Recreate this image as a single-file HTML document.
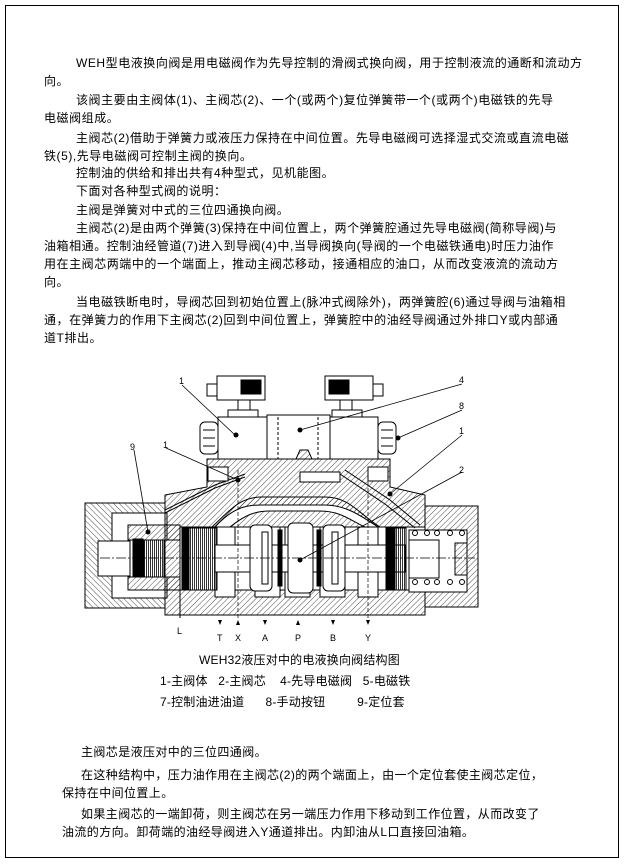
<!DOCTYPE html>
<html><head><meta charset="utf-8">
<style>
html,body{margin:0;padding:0;background:#fff;}
body{width:625px;height:865px;position:relative;overflow:hidden;font-family:"Liberation Sans","WenQuanYi Zen Hei","Noto Sans CJK SC",sans-serif;color:#000;}
.frame{position:absolute;left:5px;top:5px;width:614px;height:853px;border:1px solid #000;box-sizing:border-box;}
.t{position:absolute;font-size:12px;line-height:14px;white-space:nowrap;letter-spacing:0.55px;}
svg{position:absolute;left:0;top:0;}
</style></head><body>
<div class="frame"></div>
<div class="t" style="left:76px;top:56px">WEH型电液换向阀是用电磁阀作为先导控制的滑阀式换向阀，用于控制液流的通断和流动方</div>
<div class="t" style="left:44px;top:74px">向。</div>
<div class="t" style="left:76px;top:93px">该阀主要由主阀体(1)、主阀芯(2)、一个(或两个)复位弹簧带一个(或两个)电磁铁的先导</div>
<div class="t" style="left:44px;top:111px">电磁阀组成。</div>
<div class="t" style="left:76px;top:131px">主阀芯(2)借助于弹簧力或液压力保持在中间位置。先导电磁阀可选择湿式交流或直流电磁</div>
<div class="t" style="left:44px;top:149px">铁(5),先导电磁阀可控制主阀的换向。</div>
<div class="t" style="left:76px;top:166px">控制油的供给和排出共有4种型式，见机能图。</div>
<div class="t" style="left:76px;top:184px">下面对各种型式阀的说明：</div>
<div class="t" style="left:76px;top:203px">主阀是弹簧对中式的三位四通换向阀。</div>
<div class="t" style="left:76px;top:221px">主阀芯(2)是由两个弹簧(3)保持在中间位置上，两个弹簧腔通过先导电磁阀(简称导阀)与</div>
<div class="t" style="left:44px;top:239px">油箱相通。控制油经管道(7)进入到导阀(4)中,当导阀换向(导阀的一个电磁铁通电)时压力油作</div>
<div class="t" style="left:44px;top:257px">用在主阀芯两端中的一个端面上，推动主阀芯移动，接通相应的油口，从而改变液流的流动方</div>
<div class="t" style="left:44px;top:275px">向。</div>
<div class="t" style="left:76px;top:295px">当电磁铁断电时，导阀芯回到初始位置上(脉冲式阀除外)，两弹簧腔(6)通过导阀与油箱相</div>
<div class="t" style="left:44px;top:313px">通，在弹簧力的作用下主阀芯(2)回到中间位置上，弹簧腔中的油经导阀通过外排口Y或内部通</div>
<div class="t" style="left:44px;top:331px">道T排出。</div>

<svg width="625" height="865" viewBox="0 0 625 865">
<defs>
<pattern id="h1" width="4" height="4" patternUnits="userSpaceOnUse" patternTransform="rotate(45)"><line x1="0" y1="0" x2="0" y2="4" stroke="#000" stroke-width="0.7"/></pattern>
<pattern id="h2" width="4" height="4" patternUnits="userSpaceOnUse" patternTransform="rotate(-45)"><line x1="0" y1="0" x2="0" y2="4" stroke="#000" stroke-width="0.7"/></pattern>
<pattern id="sp" width="2" height="4" patternUnits="userSpaceOnUse"><line x1="0.5" y1="0" x2="0.5" y2="4" stroke="#000" stroke-width="0.8"/></pattern>
</defs>
<g stroke="#000" stroke-width="1" fill="none">
<!-- left cap -->
<rect x="85" y="503" width="80" height="105" fill="url(#h2)"/>
<rect x="112" y="513" width="55" height="85" fill="#fff"/>
<rect x="128" y="525" width="52" height="65" fill="url(#h1)"/>
<rect x="128" y="540" width="52" height="37" fill="#fff"/>
<rect x="98" y="541" width="32" height="35" fill="#fff"/>
<rect x="133" y="539" width="10" height="38" fill="#fff"/>
<rect x="134" y="540" width="10" height="37" fill="#000"/>
<rect x="144" y="540" width="20" height="37" fill="url(#sp)"/>
<!-- main body -->
<polygon points="165,495 207,487 207,459 390,459 390,487 425,495 425,615 165,615" fill="url(#h1)"/>
<!-- pilot base cavity -->
<rect x="300" y="472" width="40" height="10" fill="#fff"/>
<!-- arched chamber -->
<path d="M212,527 C230,510 240,497 262,497 L325,497 C350,497 360,515 380,527 Z" fill="url(#h1)"/>
<path d="M215,527 C235,505 250,505 262,505 L325,505 C345,505 360,515 378,527 Z" fill="#fff"/>
<path d="M230,527 C245,515 255,511 270,511 L320,511 C340,511 350,520 365,527 Z" fill="url(#h1)"/>
<!-- bore -->
<rect x="180" y="527" width="245" height="63" fill="#fff"/>
<rect x="215" y="527" width="20" height="70" fill="#fff"/>
<rect x="255" y="527" width="25" height="70" fill="#fff"/>
<rect x="285" y="527" width="25" height="70" fill="#fff"/>
<rect x="320" y="527" width="25" height="70" fill="#fff"/>
<rect x="358" y="527" width="20" height="70" fill="#fff"/>
<!-- piston left -->
<rect x="182" y="528" width="35" height="62" fill="url(#sp)"/>
<rect x="183" y="528" width="6" height="62" fill="#000"/>
<!-- spool -->
<rect x="215" y="545" width="190" height="27" fill="#fff"/>
<rect x="250" y="525" width="22" height="66" rx="5" fill="#fff"/>
<rect x="262" y="532" width="6" height="52" fill="#fff"/>
<rect x="288" y="523" width="25" height="70" rx="5" fill="#fff"/>
<rect x="323" y="525" width="22" height="66" rx="5" fill="#fff"/>
<rect x="332" y="532" width="6" height="52" fill="#fff"/>
<rect x="278" y="530" width="4" height="56" fill="#000"/>
<rect x="317" y="530" width="4" height="56" fill="#000"/>
<!-- piston right -->
<rect x="386" y="528" width="20" height="62" fill="url(#sp)"/>
<rect x="386" y="528" width="9" height="62" fill="#000"/>
<!-- right cap -->
<rect x="425" y="506" width="53" height="101" fill="url(#h1)"/>
<rect x="409" y="530" width="58" height="62" fill="#fff"/>
<rect x="409" y="540" width="30" height="38" fill="#fff"/>
<rect x="455" y="543" width="12" height="32" fill="url(#h1)"/>
<g fill="#fff">
<circle cx="415" cy="533" r="2.5"/><circle cx="427" cy="533" r="2.5"/><circle cx="437" cy="533" r="2.5"/><circle cx="450" cy="533" r="2.5"/><circle cx="462" cy="533" r="2.5"/>
<circle cx="415" cy="582" r="2.5"/><circle cx="427" cy="582" r="2.5"/><circle cx="437" cy="582" r="2.5"/><circle cx="450" cy="582" r="2.5"/><circle cx="462" cy="582" r="2.5"/>
</g>
<!-- control passage -->
<path d="M165,510 L215,485 L245,474" stroke-width="1"/>
<path d="M165,513 L215,488 L245,477" stroke-width="1"/>
<path d="M345,470 L390,500 L420,525" />
<path d="M340,474 L385,504 L415,528" />
<!-- centerline -->
<line x1="100" y1="558" x2="475" y2="558" stroke-dasharray="10,2,2,2" stroke-width="0.7"/>
<!-- dashed verticals -->
<line x1="238" y1="470" x2="238" y2="618" stroke-dasharray="4,2" stroke-width="0.7"/>
<line x1="368" y1="470" x2="368" y2="618" stroke-dasharray="4,2" stroke-width="0.7"/>
<line x1="180" y1="590" x2="180" y2="618"/>
<!-- pilot valve -->
<rect x="218" y="417" width="49" height="42" fill="#fff"/>
<rect x="267" y="415" width="63" height="44" fill="#fff"/>
<rect x="330" y="417" width="48" height="42" fill="#fff"/>
<rect x="228" y="410" width="30" height="7" fill="#fff"/>
<rect x="332" y="410" width="30" height="7" fill="#fff"/>
<rect x="238" y="400" width="12" height="10" fill="#fff"/>
<rect x="340" y="400" width="12" height="10" fill="#fff"/>
<rect x="217" y="376" width="48" height="24" fill="#fff"/>
<rect x="325" y="376" width="48" height="24" fill="#fff"/>
<rect x="241" y="380" width="20" height="14" fill="#000"/>
<rect x="329" y="380" width="20" height="14" fill="#000"/>
<rect x="207" y="384" width="10" height="12" fill="#fff"/>
<rect x="373" y="384" width="10" height="12" fill="#fff"/>
<rect x="200" y="422" width="18" height="32" rx="5" fill="#fff"/>
<rect x="378" y="422" width="18" height="32" rx="5" fill="#fff"/>
<line x1="203" y1="430" x2="215" y2="430"/><line x1="203" y1="438" x2="215" y2="438"/><line x1="203" y1="446" x2="215" y2="446"/>
<line x1="381" y1="430" x2="393" y2="430"/><line x1="381" y1="438" x2="393" y2="438"/><line x1="381" y1="446" x2="393" y2="446"/>
<line x1="278" y1="417" x2="278" y2="459" stroke-dasharray="3,2"/>
<line x1="318" y1="417" x2="318" y2="459" stroke-dasharray="3,2"/>
<path d="M296,459 L300,450 L308,450 L312,459 Z" fill="url(#h1)"/>
<!-- side plugs -->
<rect x="208" y="467" width="20" height="14" fill="#fff"/>
<rect x="368" y="467" width="20" height="14" fill="#fff"/>
<!-- leaders -->
<g stroke-width="0.8">
<line x1="182" y1="385" x2="235" y2="435"/>
<line x1="462" y1="384" x2="300" y2="430"/>
<line x1="462" y1="410" x2="398" y2="438"/>
<line x1="462" y1="435" x2="390" y2="494"/>
<line x1="462" y1="472" x2="300" y2="560"/>
<line x1="134" y1="450" x2="148" y2="532"/>
<line x1="166" y1="448" x2="238" y2="480"/>
</g>
</g>
<g fill="#000">
<circle cx="236" cy="435" r="2.5"/><circle cx="300" cy="430" r="2.5"/><circle cx="398" cy="438" r="2.5"/><circle cx="390" cy="494" r="2.5"/><circle cx="300" cy="560" r="2.5"/><circle cx="148" cy="532" r="2.5"/><circle cx="238" cy="480" r="2.5"/>
<polygon points="218,620 222,620 220,625"/>
<polygon points="236,625 240,625 238,620"/>
<polygon points="263,620 267,620 265,625"/>
<polygon points="296,625 300,625 298,620"/>
<polygon points="331,620 335,620 333,625"/>
<polygon points="366,620 370,620 368,625"/>
</g>
<g font-family="Liberation Sans,sans-serif" font-size="9" fill="#000">
<text x="179" y="384">1</text><text x="459" y="383">4</text><text x="459" y="409">8</text><text x="459" y="434">1</text><text x="459" y="473">2</text><text x="130" y="450">9</text><text x="163" y="448">1</text>
<text x="177" y="634">L</text><text x="217" y="641">T</text><text x="235" y="641">X</text><text x="262" y="641">A</text><text x="295" y="641">P</text><text x="330" y="641">B</text><text x="365" y="641">Y</text>
</g>
</svg>

<div class="t" style="left:199px;top:653px;letter-spacing:0.2px">WEH32液压对中的电液换向阀结构图</div>
<div class="t" style="left:160px;top:674px;letter-spacing:0.2px">1-主阀体&nbsp;&nbsp;&nbsp;2-主阀芯&nbsp;&nbsp;&nbsp;&nbsp;4-先导电磁阀&nbsp;&nbsp;&nbsp;5-电磁铁</div>
<div class="t" style="left:160px;top:695px;letter-spacing:0.2px">7-控制油进油道&nbsp;&nbsp;&nbsp;&nbsp;&nbsp;&nbsp;8-手动按钮&nbsp;&nbsp;&nbsp;&nbsp;&nbsp;&nbsp;&nbsp;&nbsp;&nbsp;9-定位套</div>
<div class="t" style="left:81px;top:745px;letter-spacing:0.4px">主阀芯是液压对中的三位四通阀。</div>
<div class="t" style="left:81px;top:768px;letter-spacing:0.4px">在这种结构中，压力油作用在主阀芯(2)的两个端面上，由一个定位套使主阀芯定位，</div>
<div class="t" style="left:62px;top:786px;letter-spacing:0.4px">保持在中间位置上。</div>
<div class="t" style="left:81px;top:807px;letter-spacing:0.4px">如果主阀芯的一端卸荷，则主阀芯在另一端压力作用下移动到工作位置，从而改变了</div>
<div class="t" style="left:62px;top:825px;letter-spacing:0.4px">油流的方向。卸荷端的油经导阀进入Y通道排出。内卸油从L口直接回油箱。</div>
</body></html>
